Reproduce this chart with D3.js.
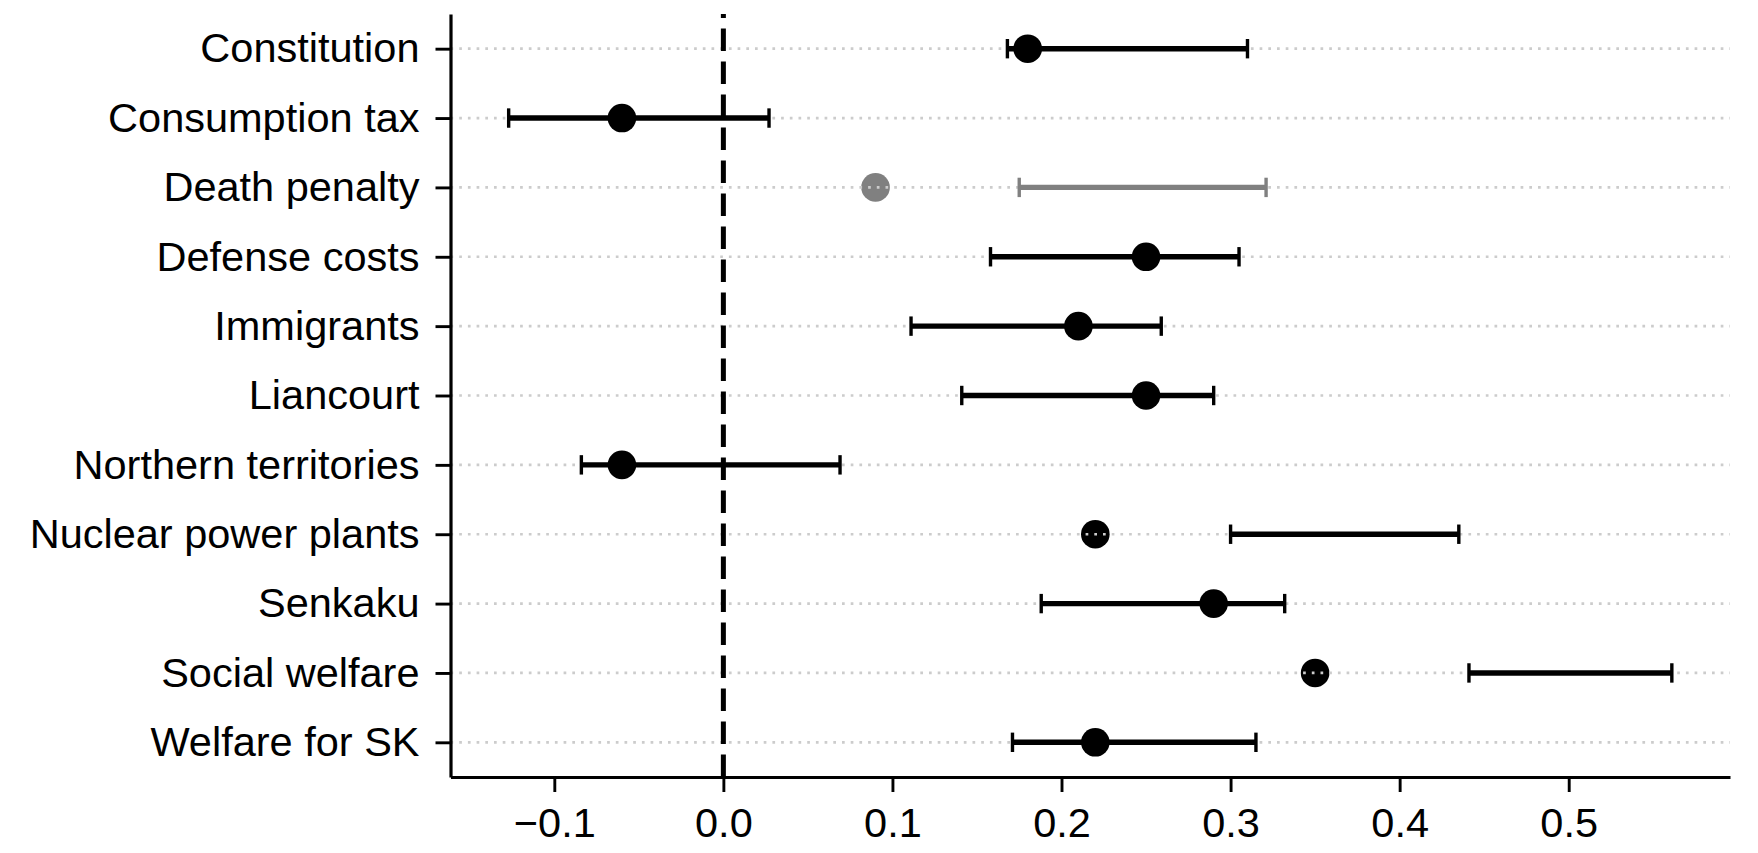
<!DOCTYPE html>
<html>
<head>
<meta charset="utf-8">
<script src="https://cdn.jsdelivr.net/npm/d3@7/dist/d3.min.js"></script>
<style>
  html, body { margin: 0; padding: 0; background: #ffffff; }
  svg { display: block; }
  text { font-family: "Liberation Sans", Arial, Helvetica, sans-serif; }
</style>
</head>
<body>
<svg id="chart" width="1758" height="853"></svg>
<script>
const categories = ["Constitution", "Consumption tax", "Death penalty", "Defense costs", "Immigrants",
  "Liancourt", "Northern territories", "Nuclear power plants", "Senkaku", "Social welfare", "Welfare for SK"];
const estimates = [0.18, -0.06, 0.09, 0.25, 0.21, 0.25, -0.06, 0.22, 0.29, 0.35, 0.22];
const lowerBounds = [0.168, -0.127, 0.175, 0.158, 0.111, 0.141, -0.084, 0.300, 0.188, 0.441, 0.171];
const upperBounds = [0.310, 0.027, 0.321, 0.305, 0.259, 0.290, 0.069, 0.435, 0.332, 0.561, 0.315];
const greyedCategories = ["Death penalty"];
const xTickValues = [-0.1, 0.0, 0.1, 0.2, 0.3, 0.4, 0.5];

(function () {
  const rows = categories.map((c, i) => ({
    cat: c, est: estimates[i], lo: lowerBounds[i], hi: upperBounds[i],
    grey: greyedCategories.includes(c),
    outside: estimates[i] < lowerBounds[i] || estimates[i] > upperBounds[i]
  }));

  const svg = d3.select("#chart");
  const mLeft = 450.5, mRight = 1730, mTop = 14, mBottom = 777;

  const lo = d3.min(lowerBounds), hi = d3.max(upperBounds);
  const pad = (hi - lo) * 0.05;
  const x = d3.scaleLinear().domain([lo - pad, hi + pad]).range([mLeft, mRight]);
  const y = d3.scalePoint().domain(categories).range([mTop, mBottom]).padding(0.5);

  const black = "#000000", grey = "#808080";
  const colorOf = d => d.grey ? grey : black;

  // markers that sit under the grid (estimate outside its interval)
  svg.append("g").selectAll("circle").data(rows.filter(d => d.outside)).join("circle")
    .attr("cx", d => x(d.est)).attr("cy", d => y(d.cat)).attr("r", 14.3)
    .attr("fill", colorOf);

  // grid lines
  svg.append("g").selectAll("line").data(categories).join("line")
    .attr("x1", mLeft).attr("x2", mRight)
    .attr("y1", d => y(d)).attr("y2", d => y(d))
    .attr("stroke", "#cccccc").attr("stroke-width", 2.7)
    .attr("stroke-dasharray", "2.7,6");

  // error bars
  const eb = svg.append("g");
  eb.selectAll("line.bar").data(rows).join("line").attr("class", "bar")
    .attr("x1", d => x(d.lo)).attr("x2", d => x(d.hi))
    .attr("y1", d => y(d.cat)).attr("y2", d => y(d.cat))
    .attr("stroke", colorOf).attr("stroke-width", 5.4);
  eb.selectAll("line.capl").data(rows).join("line").attr("class", "capl")
    .attr("x1", d => x(d.lo)).attr("x2", d => x(d.lo))
    .attr("y1", d => y(d.cat) - 9.7).attr("y2", d => y(d.cat) + 9.7)
    .attr("stroke", colorOf).attr("stroke-width", 3.4);
  eb.selectAll("line.caph").data(rows).join("line").attr("class", "caph")
    .attr("x1", d => x(d.hi)).attr("x2", d => x(d.hi))
    .attr("y1", d => y(d.cat) - 9.7).attr("y2", d => y(d.cat) + 9.7)
    .attr("stroke", colorOf).attr("stroke-width", 3.4);

  // markers on top
  svg.append("g").selectAll("circle").data(rows.filter(d => !d.outside)).join("circle")
    .attr("cx", d => x(d.est)).attr("cy", d => y(d.cat)).attr("r", 14.3)
    .attr("fill", colorOf);

  // zero reference line (dash pattern starts at bottom)
  svg.append("path")
    .attr("d", `M${x(0)},${mBottom}L${x(0)},${mTop}`)
    .attr("stroke", black).attr("stroke-width", 5)
    .attr("stroke-dasharray", "22.5,10.5").attr("fill", "none");

  // axes
  const xAxis = d3.axisBottom(x).tickValues(xTickValues).tickFormat(d3.format(".1f"))
    .tickSizeOuter(0).tickSizeInner(15).tickPadding(16);
  const gx = svg.append("g").attr("transform", `translate(0,${mBottom})`).call(xAxis);
  gx.select(".domain").attr("stroke", black).attr("stroke-width", 3.2);
  gx.selectAll(".tick line").attr("stroke", black).attr("stroke-width", 2.9);
  gx.selectAll(".tick text").attr("font-size", 41.5).attr("fill", black)
    .attr("font-family", "'Liberation Sans', Arial, sans-serif");

  const yAxis = d3.axisLeft(y).tickSizeOuter(0).tickSizeInner(15).tickPadding(16);
  const gy = svg.append("g").attr("transform", `translate(${mLeft},0)`).call(yAxis);
  gy.select(".domain").attr("stroke", black).attr("stroke-width", 3.2);
  gy.selectAll(".tick line").attr("stroke", black).attr("stroke-width", 2.9);
  gy.selectAll(".tick text").attr("font-size", 41.5).attr("fill", black)
    .attr("font-family", "'Liberation Sans', Arial, sans-serif");
})();
</script>
</body>
</html>
